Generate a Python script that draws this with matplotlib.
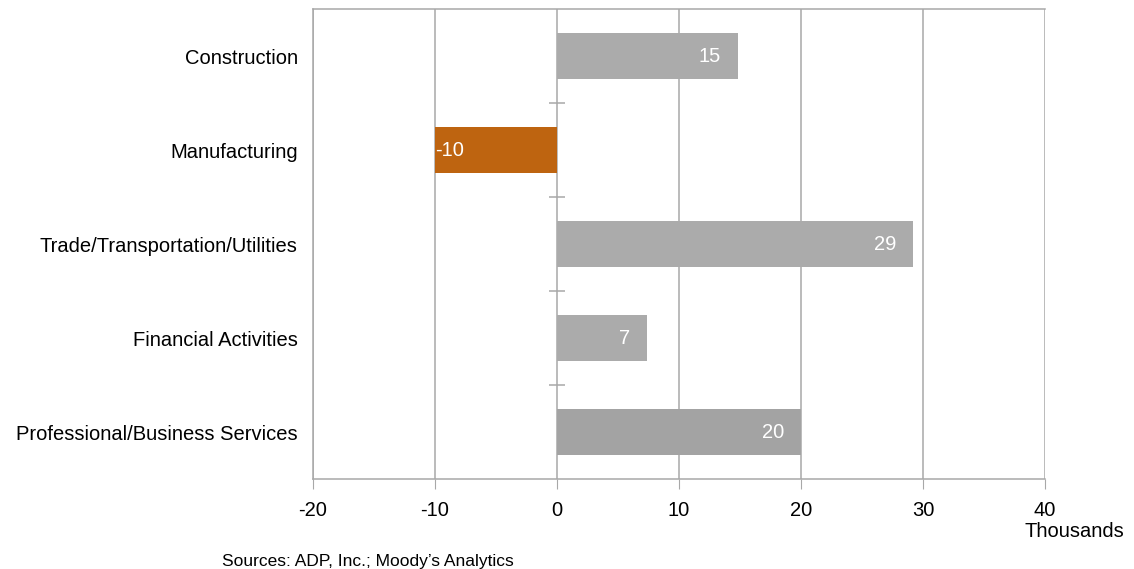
import numpy as np
import matplotlib.pyplot as plt

plt.rcParams["font.family"] = ["Liberation Sans", "DejaVu Sans"]
plt.rcParams["axes.unicode_minus"] = False

# Data (thousands of jobs)
sectors = ["Construction", "Manufacturing", "Trade/Transportation/Utilities",
           "Financial Activities", "Professional/Business Services"]
change = [14.8, -10.0, 29.2, 7.4, 20.0]

grey = "#A8A8A8"
bar_colors = ["#ABABAB", "#BE6410", "#ABABAB", "#ABABAB", "#A3A3A3"]

fig = plt.figure(figsize=(11.34, 5.69), dpi=100)
ax = fig.add_axes([0.276, 0.158, 0.6455, 0.826])

y = np.arange(len(sectors))
bars = ax.barh(y, change, height=0.49, color=bar_colors, zorder=3)

for b, v in zip(bars, change):
    yc = b.get_y() + b.get_height() / 2
    if v < 0:
        ax.text(v + 0.05, yc, f"{v:.0f}", color="white", fontsize=14.5,
                ha="left", va="center", zorder=4)
    else:
        ax.text(v - 1.4, yc, f"{v:.0f}", color="white", fontsize=14.5,
                ha="right", va="center", zorder=4)

ax.set_xlim(-20, 40)
ax.set_ylim(len(sectors) - 0.5, -0.5)
ax.set_xticks(np.arange(-20, 41, 10))
ax.set_yticks(y)
ax.set_yticklabels(sectors, fontsize=14.5)
ax.tick_params(axis="y", length=0, pad=11)
ax.tick_params(axis="x", labelsize=14.5, length=7, color=grey, pad=9)
ax.xaxis.grid(True, color=grey, linewidth=1.1, zorder=0)

# category separators on the zero line
seps = np.arange(0.5, len(sectors) - 0.5, 1.0)
ax.plot(np.zeros_like(seps), seps, ls="none", marker="_", markersize=11,
        markeredgewidth=1.1, color=grey, zorder=2)

for side in ["left", "top", "bottom"]:
    ax.spines[side].set_color(grey)
    ax.spines[side].set_linewidth(1.1)
ax.spines["right"].set_visible(False)

fig.text(0.903, 0.05, "Thousands", fontsize=14.5, ha="left", va="bottom")
fig.text(0.196, 0.0, "Sources: ADP, Inc.; Moody\u2019s Analytics", fontsize=12.5,
         ha="left", va="bottom")

fig.savefig("out.png", dpi=100)
